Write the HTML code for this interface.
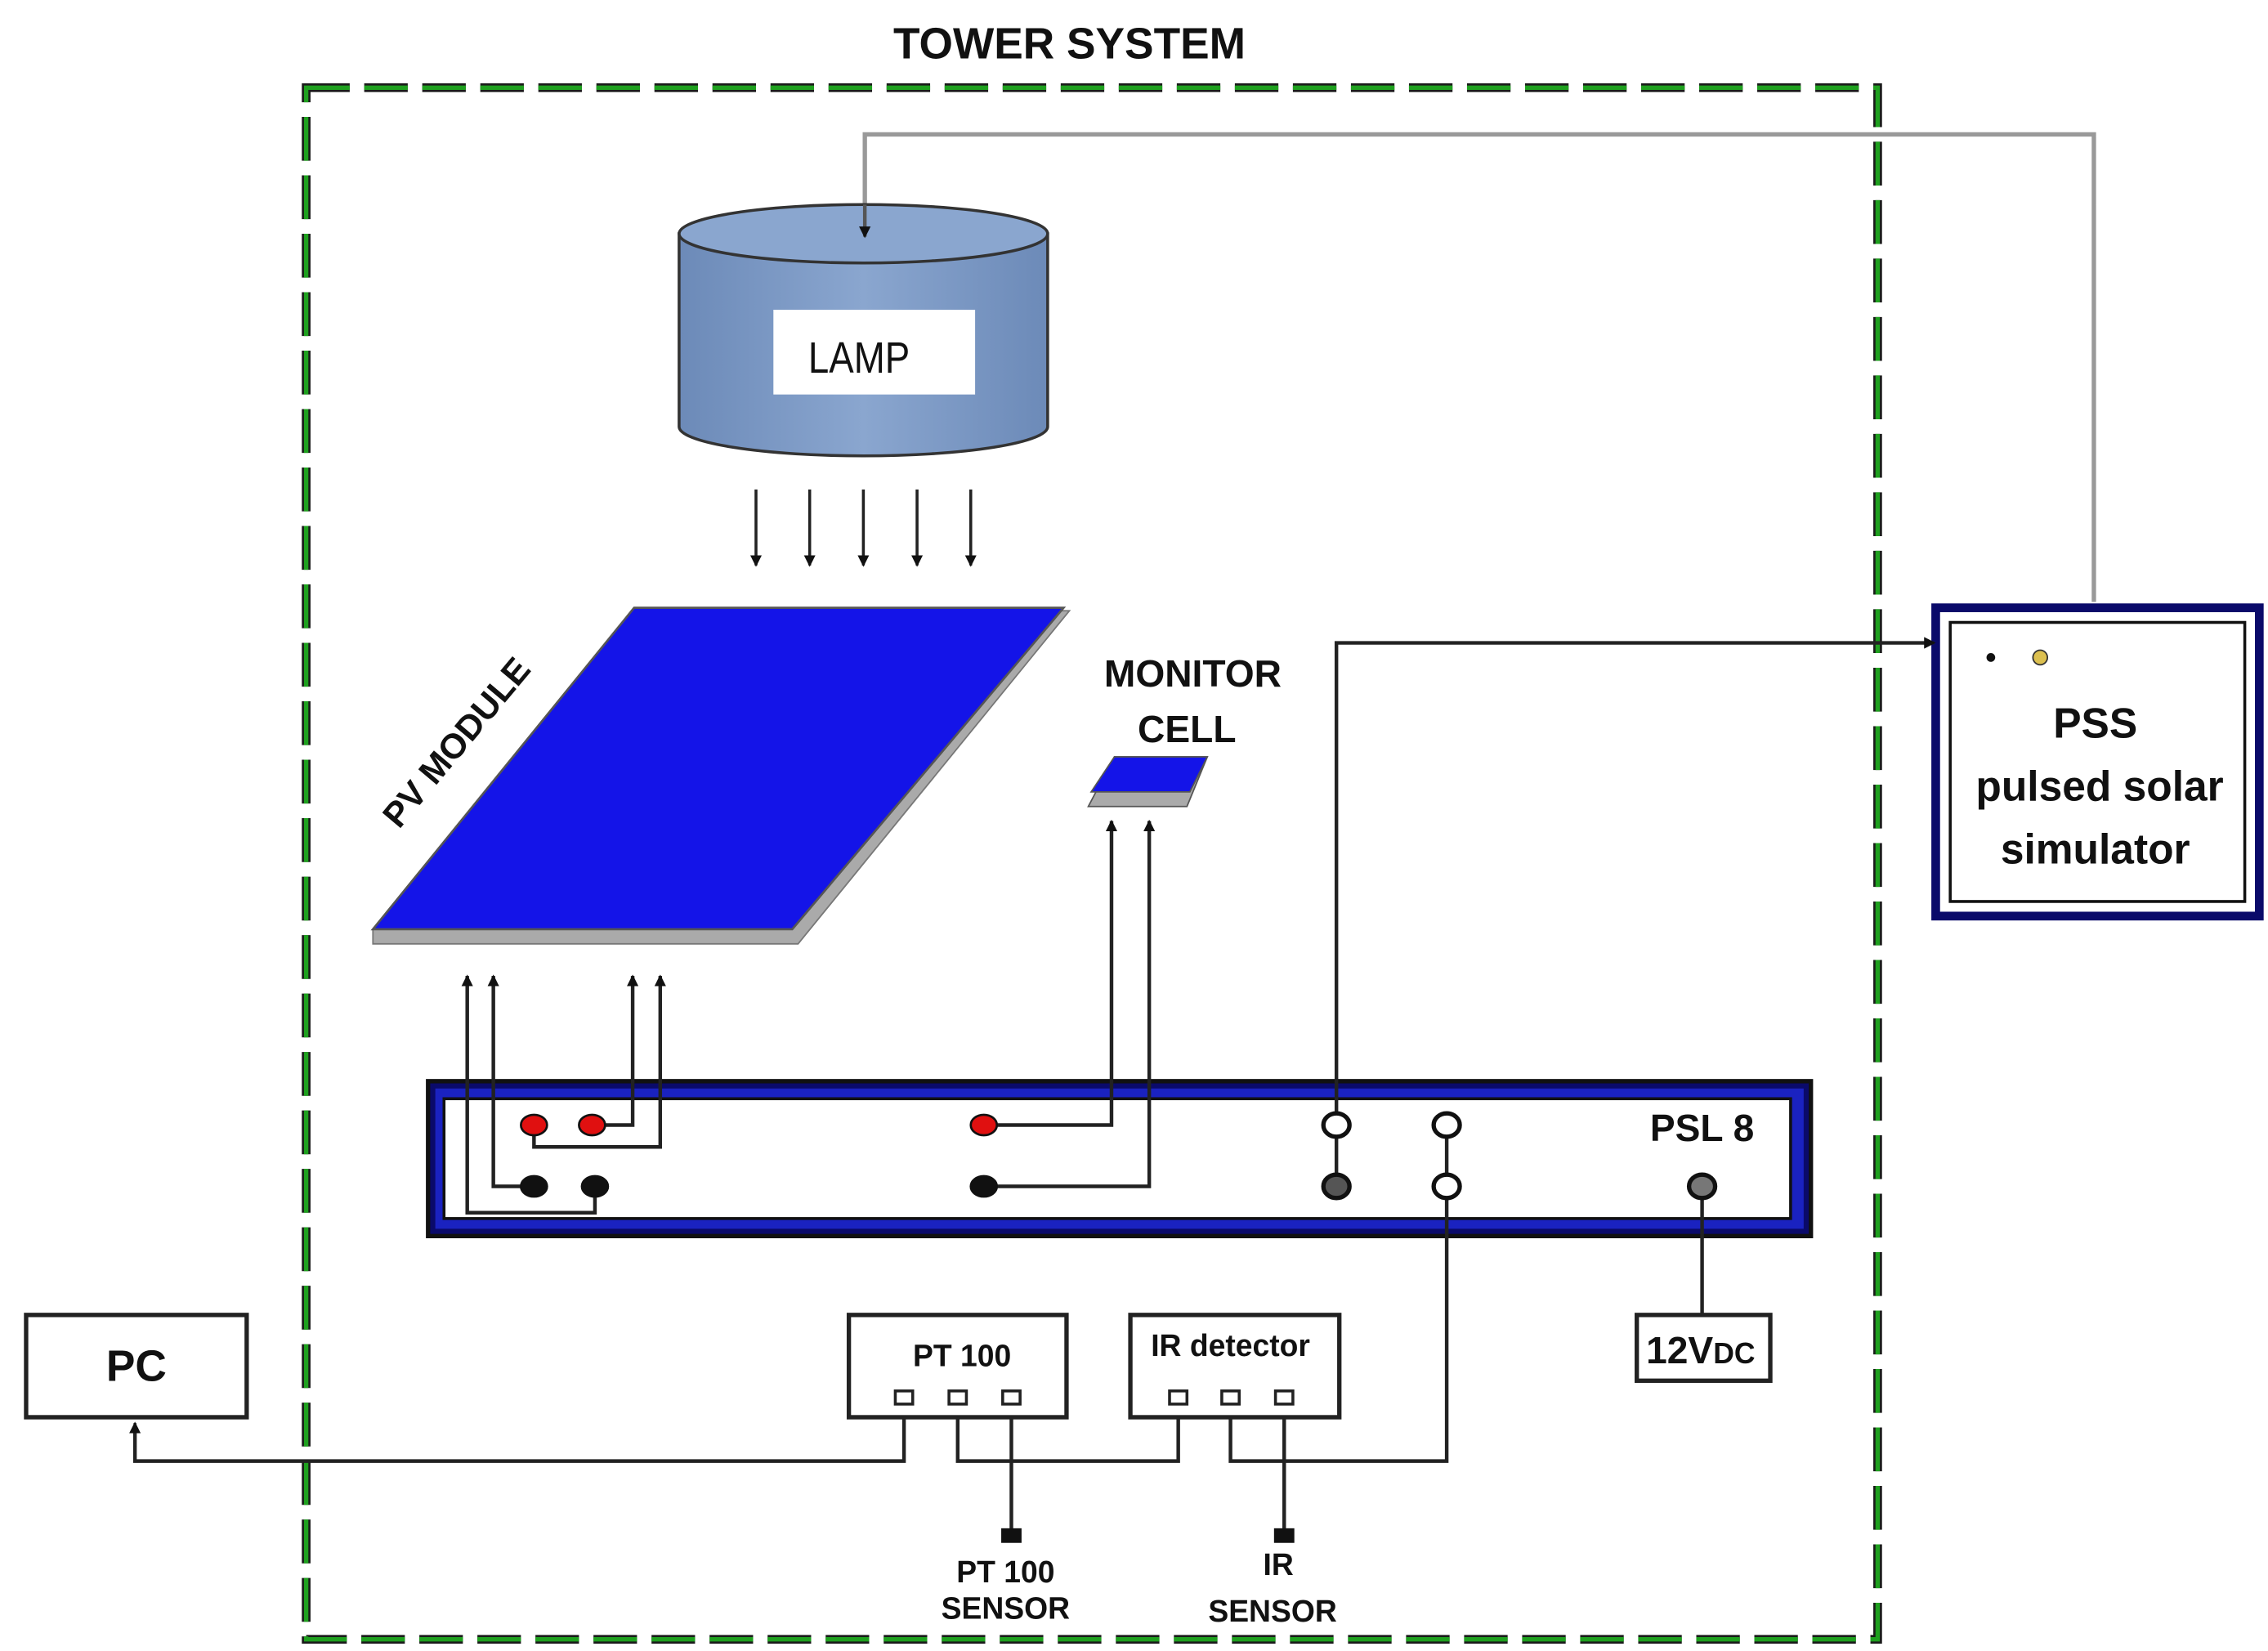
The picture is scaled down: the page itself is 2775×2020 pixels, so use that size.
<!DOCTYPE html>
<html><head><meta charset="utf-8"><style>html,body{margin:0;padding:0;background:#fff}svg{display:block}</style></head><body>
<svg width="2775" height="2020" viewBox="0 0 1563 1130" preserveAspectRatio="none" xmlns="http://www.w3.org/2000/svg" font-family="Liberation Sans, sans-serif" font-weight="bold">
<defs>
<marker id="a" markerWidth="8" markerHeight="8" refX="7" refY="4" orient="auto" markerUnits="userSpaceOnUse"><path d="M0,0 L8,4 L0,8 z" fill="#111"/></marker>
<linearGradient id="lg" x1="0" x2="1"><stop offset="0" stop-color="#6c8ab8"/><stop offset="0.5" stop-color="#8aa6cf"/><stop offset="1" stop-color="#6c8ab8"/></linearGradient>
</defs>
<text x="737" y="40" font-size="30" text-anchor="middle" fill="#111">TOWER SYSTEM</text>
<rect x="211" y="60" width="1083" height="1062" fill="none" stroke="#1a1a1a" stroke-width="6" stroke-dasharray="30 10"/>
<rect x="211" y="60" width="1083" height="1062" fill="none" stroke="#1fa01f" stroke-width="3" stroke-dasharray="30 10"/>
<polyline points="596,140 596,92 1443,92 1443,412" fill="none" stroke="#999" stroke-width="3"/>
<path d="M468,160 L468,292 A127,20 0 0 0 722,292 L722,160 Z" fill="url(#lg)" stroke="#333" stroke-width="2"/>
<ellipse cx="595" cy="160" rx="127" ry="20" fill="#8aa6cf" stroke="#333" stroke-width="2"/>
<polyline points="596,140 596,162" fill="none" stroke="#555" stroke-width="2.5" marker-end="url(#a)"/>
<rect x="533" y="212" width="139" height="58" fill="#fff"/>
<text x="592" y="255" font-size="30" font-weight="normal" text-anchor="middle" fill="#111" textLength="70" lengthAdjust="spacingAndGlyphs">LAMP</text>
<g stroke="#222" stroke-width="2">
<line x1="521" y1="335" x2="521" y2="387" marker-end="url(#a)"/>
<line x1="558" y1="335" x2="558" y2="387" marker-end="url(#a)"/>
<line x1="595" y1="335" x2="595" y2="387" marker-end="url(#a)"/>
<line x1="632" y1="335" x2="632" y2="387" marker-end="url(#a)"/>
<line x1="669" y1="335" x2="669" y2="387" marker-end="url(#a)"/>
</g>
<polygon points="437,418 737,418 550,646 257,646 257,636" fill="#aaa" stroke="#777" stroke-width="1"/>
<polygon points="437,416 733,416 546,636 257,636" fill="#1414e8" stroke="#555" stroke-width="1.5"/>
<text x="0" y="0" font-size="24" fill="#111" transform="translate(275,568) rotate(-50)">PV MODULE</text>
<text x="822" y="470" font-size="26" text-anchor="middle" fill="#111">MONITOR</text>
<text x="818" y="508" font-size="26" text-anchor="middle" fill="#111">CELL</text>
<polygon points="768,518 832,518 818,552 750,552" fill="#aaa" stroke="#555"/>
<polygon points="768,518 832,518 820,542 752,542" fill="#1414e8" stroke="#555"/>
<rect x="1334" y="416" width="223" height="211" fill="#fff" stroke="#0a0a6a" stroke-width="6"/>
<rect x="1344" y="426" width="203" height="191" fill="none" stroke="#111" stroke-width="2"/>
<circle cx="1372" cy="450" r="3" fill="#111"/>
<circle cx="1406" cy="450" r="5" fill="#dcc050" stroke="#333"/>
<text x="1444" y="505" font-size="29" text-anchor="middle" fill="#111">PSS</text>
<text x="1447" y="548" font-size="29" text-anchor="middle" fill="#111">pulsed solar</text>
<text x="1444" y="591" font-size="29" text-anchor="middle" fill="#111">simulator</text>
<rect x="295" y="740" width="953" height="106" fill="#0a0a6a" stroke="#111" stroke-width="3"/>
<rect x="300" y="745" width="943" height="96" fill="#1a22c0"/>
<rect x="306" y="752" width="928" height="82" fill="#fff" stroke="#111" stroke-width="2"/>
<text x="1173" y="781" font-size="26" text-anchor="middle" fill="#111">PSL 8</text>
<g fill="none" stroke="#222" stroke-width="2.5">
<polyline points="322,668 322,830 410,830 410,812"/>
<polyline points="340,668 340,812 368,812"/>
<polyline points="436,668 436,770 408,770"/>
<polyline points="455,668 455,785 368,785 368,770"/>
<polyline points="766,562 766,770 678,770"/>
<polyline points="792,562 792,812 678,812"/>
<polyline points="921,812 921,440 1331,440"/>
<polyline points="997,770 997,1000 848,1000 848,960"/>
<polyline points="1173,812 1173,900"/>
<polyline points="623,960 623,1000 93,1000 93,976"/>
<polyline points="660,960 660,1000 812,1000 812,960"/>
<polyline points="697,960 697,1050"/>
<polyline points="885,960 885,1050"/>
</g>
<g stroke="#222" stroke-width="2">
<line x1="322" y1="700" x2="322" y2="668" marker-end="url(#a)"/>
<line x1="340" y1="700" x2="340" y2="668" marker-end="url(#a)"/>
<line x1="436" y1="700" x2="436" y2="668" marker-end="url(#a)"/>
<line x1="455" y1="700" x2="455" y2="668" marker-end="url(#a)"/>
<line x1="766" y1="600" x2="766" y2="562" marker-end="url(#a)"/>
<line x1="792" y1="600" x2="792" y2="562" marker-end="url(#a)"/>
<line x1="1300" y1="440" x2="1333" y2="440" marker-end="url(#a)"/>
<line x1="93" y1="990" x2="93" y2="974" marker-end="url(#a)"/>
</g>
<g stroke="#111" stroke-width="1.5">
<ellipse cx="368" cy="770" rx="9" ry="7" fill="#e01010"/>
<ellipse cx="408" cy="770" rx="9" ry="7" fill="#e01010"/>
<ellipse cx="678" cy="770" rx="9" ry="7" fill="#e01010"/>
<ellipse cx="368" cy="812" rx="9" ry="7" fill="#111"/>
<ellipse cx="410" cy="812" rx="9" ry="7" fill="#111"/>
<ellipse cx="678" cy="812" rx="9" ry="7" fill="#111"/>
<ellipse cx="921" cy="770" rx="9" ry="8" fill="#fff" stroke-width="3"/>
<ellipse cx="997" cy="770" rx="9" ry="8" fill="#fff" stroke-width="3"/>
<ellipse cx="921" cy="812" rx="9" ry="8" fill="#555" stroke-width="3"/>
<ellipse cx="997" cy="812" rx="9" ry="8" fill="#fff" stroke-width="3"/>
<ellipse cx="1173" cy="812" rx="9" ry="8" fill="#777" stroke-width="3"/>
</g>
<g fill="#fff" stroke="#222" stroke-width="3">
<rect x="18" y="900" width="152" height="70"/>
<rect x="585" y="900" width="150" height="70"/>
<rect x="779" y="900" width="144" height="70"/>
<rect x="1128" y="900" width="92" height="45"/>
</g>
<g fill="#fff" stroke="#222" stroke-width="2">
<rect x="617" y="952" width="12" height="9"/><rect x="654" y="952" width="12" height="9"/><rect x="691" y="952" width="12" height="9"/>
<rect x="806" y="952" width="12" height="9"/><rect x="842" y="952" width="12" height="9"/><rect x="879" y="952" width="12" height="9"/>
</g>
<rect x="690" y="1046" width="14" height="10" fill="#111"/>
<rect x="878" y="1046" width="14" height="10" fill="#111"/>
<text x="94" y="945" font-size="30" text-anchor="middle" fill="#111">PC</text>
<text x="663" y="935" font-size="21" text-anchor="middle" fill="#111">PT 100</text>
<text x="848" y="928" font-size="21" text-anchor="middle" fill="#111">IR detector</text>
<text x="1172" y="933" font-size="26" text-anchor="middle" fill="#111">12V<tspan font-size="20">DC</tspan></text>
<text x="693" y="1083" font-size="21" text-anchor="middle" fill="#111">PT 100</text>
<text x="693" y="1108" font-size="21" text-anchor="middle" fill="#111">SENSOR</text>
<text x="881" y="1078" font-size="21" text-anchor="middle" fill="#111">IR</text>
<text x="877" y="1110" font-size="21" text-anchor="middle" fill="#111">SENSOR</text>
</svg>
</body></html>
